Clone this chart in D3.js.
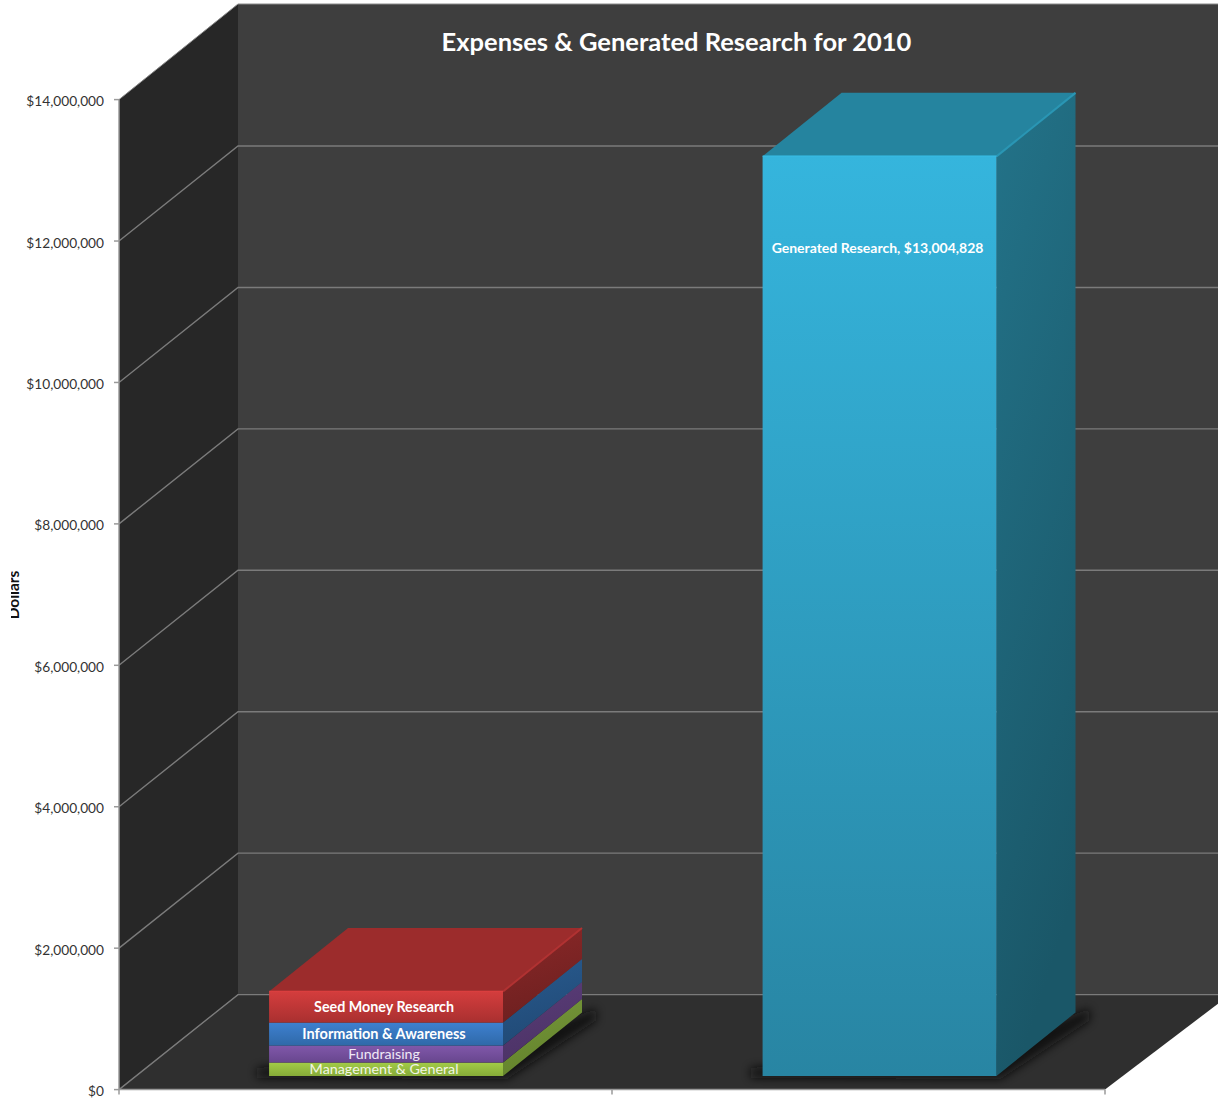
<!DOCTYPE html>
<html>
<head>
<meta charset="utf-8">
<title>Expenses & Generated Research for 2010</title>
<script src="https://cdn.jsdelivr.net/npm/d3@7"></script>
<style>
  html, body { margin: 0; padding: 0; background: #fff; }
  svg { display: block; }
  text { font-family: Lato, "Open Sans", sans-serif; }
</style>
</head>
<body>
<svg id="chart" width="1218" height="1101"></svg>
<script>
// Values in dollars
const groups = ["Expenses", "Generated Research"];
const expenseNames = ["Management & General", "Fundraising", "Information & Awareness", "Seed Money Research"];
const expenseValues = [190000, 240000, 325000, 440000];
const researchName = "Generated Research";
const researchValue = 13004828;
const tickValues = [0, 2000000, 4000000, 6000000, 8000000, 10000000, 12000000, 14000000];
const chartTitle = "Expenses & Generated Research for 2010";
const axisTitle = "Dollars";

// Face colours per series: front gradient top/bottom, side top/bottom, roof
const expenseFaces = [
  { front: ["#a2cb47", "#86ab38"], side: ["#75963a", "#64842c"], roof: "#7f9f35", label: "#f2f6e4", weight: 400, size: 14.3 },
  { front: ["#8058aa", "#68468e"], side: ["#5a3c78", "#4c3366"], roof: "#5a3c78", label: "#efe8f6", weight: 400, size: 14.2 },
  { front: ["#3e80d0", "#2f69a8"], side: ["#285a8e", "#214a76"], roof: "#285a8e", label: "#ffffff", weight: 700, size: 14.5 },
  { front: ["#d43d3d", "#a93030"], side: ["#8a2828", "#6e2020"], roof: "#9c2c2c", label: "#ffffff", weight: 700, size: 14.3 }
];
const researchFace = { front: ["#35b5dd", "#2885a3"], side: ["#237389", "#1a5768"], roof: "#25849f" };

const svg = d3.select("#chart");
const defs = svg.append("defs");

const y = d3.scaleLinear().domain([0, 14000000]).range([1089.6, 99.6]);
const x = d3.scaleBand().domain(groups).range([139.3, 1126.3]).paddingInner(0.526).paddingOuter(0.263);
const money = d3.format("$,");

// Box geometry
const left = 119, wallX = 238, wallShift = 95;
const floorRight = 1105, wallTop = 4, pageRight = 1230;
const barLift = 13.6, depthX = 79, depthY = 63.5;

const poly = pts => pts.map(p => p.join(",")).join(" ");

let gradId = 0;
function gradient(stops, x2, y2) {
  const id = "g" + (gradId++);
  const g = defs.append("linearGradient").attr("id", id)
    .attr("x1", 0).attr("y1", 0).attr("x2", x2).attr("y2", y2);
  g.append("stop").attr("offset", 0).attr("stop-color", stops[0]);
  g.append("stop").attr("offset", 1).attr("stop-color", stops[1]);
  return `url(#${id})`;
}

defs.append("filter").attr("id", "soft")
  .attr("x", "-20%").attr("y", "-60%").attr("width", "140%").attr("height", "220%")
  .append("feGaussianBlur").attr("stdDeviation", 5);
defs.append("clipPath").attr("id", "titleClip")
  .append("rect").attr("x", 11).attr("y", 540).attr("width", 20).attr("height", 100);

// Walls and floor
const walls = svg.append("g");
walls.append("polygon").attr("fill", "#3e3e3e")
  .attr("points", poly([[wallX, wallTop], [pageRight, wallTop], [pageRight, y(0) - wallShift], [wallX, y(0) - wallShift]]));
walls.append("polygon").attr("fill", "#272727")
  .attr("points", poly([[left, y(14000000)], [wallX, wallTop], [wallX, y(0) - wallShift], [left, y(0)]]));
walls.append("polygon").attr("fill", "#2f2f2f")
  .attr("points", poly([[left, y(0)], [wallX, y(0) - wallShift], [pageRight, y(0) - wallShift], [floorRight, y(0)]]));

// Gridlines run along the back wall and down the side wall
const grid = svg.append("g").attr("fill", "none").attr("stroke", "#7b7b7b").attr("stroke-width", 1.4);
grid.selectAll("polyline").data(tickValues.slice(0, -1)).join("polyline")
  .attr("points", d => poly([[left, y(d)], [wallX, y(d) - wallShift], [pageRight, y(d) - wallShift]]));
grid.append("polyline").attr("stroke", "#8a8a8a").attr("stroke-width", 1)
  .attr("points", poly([[left, y(14000000)], [wallX, wallTop], [pageRight, wallTop]]));

// Axes
const axisG = svg.append("g").attr("stroke", "#9a9a9a").attr("stroke-width", 1.5);
axisG.append("line").attr("x1", left).attr("x2", left).attr("y1", y(14000000)).attr("y2", y(0));
axisG.append("line").attr("x1", left).attr("x2", floorRight).attr("y1", y(0)).attr("y2", y(0));
axisG.selectAll(".ytick").data(tickValues).join("line").attr("class", "ytick")
  .attr("x1", left - 5).attr("x2", left).attr("y1", d => y(d)).attr("y2", d => y(d));
axisG.selectAll(".xtick").data([left, (left + floorRight) / 2, floorRight]).join("line").attr("class", "xtick")
  .attr("x1", d => d).attr("x2", d => d).attr("y1", y(0)).attr("y2", y(0) + 5);

svg.append("g").selectAll("text").data(tickValues).join("text")
  .attr("x", 104).attr("y", d => y(d) + 1.8).attr("dy", "0.35em").attr("text-anchor", "end")
  .attr("font-size", 13.7).attr("fill", "#333333")
  .text(d => money(d));

// Rotated axis title, trimmed at its left edge
svg.append("g").attr("clip-path", "url(#titleClip)")
  .append("text")
  .attr("transform", "translate(19,595) rotate(-90)")
  .attr("text-anchor", "middle").attr("font-size", 15.5).attr("font-weight", 700).attr("fill", "#111")
  .text(axisTitle);

// One 3D box: front face, side face, roof
function box(g, x0, w, yTop, yBottom, face, roofed) {
  const x1 = x0 + w;
  g.append("polygon").attr("fill", gradient(face.side, 0.25, 1))
    .attr("points", poly([[x1, yTop], [x1 + depthX, yTop - depthY], [x1 + depthX, yBottom - depthY], [x1, yBottom]]));
  if (roofed) {
    g.append("polygon").attr("fill", face.roof)
      .attr("points", poly([[x0, yTop], [x0 + depthX, yTop - depthY], [x1 + depthX, yTop - depthY], [x1, yTop]]));
    g.append("line").attr("x1", x1).attr("y1", yTop).attr("x2", x1 + depthX).attr("y2", yTop - depthY)
      .attr("stroke", d3.color(face.roof).brighter(0.35)).attr("stroke-width", 2);
    g.append("line").attr("x1", x0).attr("y1", yTop).attr("x2", x1).attr("y2", yTop)
      .attr("stroke", d3.color(face.front[0]).brighter(0.15)).attr("stroke-width", 1.5);
  }
  g.append("rect").attr("x", x0).attr("y", yTop).attr("width", w).attr("height", yBottom - yTop)
    .attr("fill", gradient(face.front, 0, 1));
}

// Soft shadow cast on the floor around each bar's foot
function shadow(x0, w) {
  const base = y(0) - barLift;
  svg.append("polygon").attr("fill", "#0c0c0c").attr("opacity", 0.85).attr("filter", "url(#soft)")
    .attr("points", poly([
      [x0 - 12, base - 8], [x0 - 12, base + 2], [x0 + w + 4, base + 3],
      [x0 + w + depthX + 14, base - depthY + 8], [x0 + w + depthX + 14, base - depthY - 4],
      [x0 + w, base - 30]
    ]));
}

const w = x.bandwidth();
const expenseX = x(groups[0]);
const researchX = x(groups[1]);

shadow(expenseX, w);
shadow(researchX, w);

// Stacked expense bar, drawn from the bottom up
const stack = svg.append("g");
const labels = svg.append("g").attr("text-anchor", "middle");
const labelYOffset = [-7, -9, -12, -15.5];
let running = 0;
expenseValues.forEach((v, i) => {
  const yBottom = y(running) - barLift;
  const yTop = y(running + v) - barLift;
  box(stack, expenseX, w, yTop, yBottom, expenseFaces[i], i === expenseValues.length - 1);
  running += v;
});
running = 0;
expenseValues.forEach((v, i) => {
  const yBottom = y(running) - barLift;
  const f = expenseFaces[i];
  labels.append("text")
    .attr("x", expenseX + w / 2 - 2).attr("y", yBottom + labelYOffset[i]).attr("dy", "0.35em")
    .attr("font-size", f.size).attr("font-weight", f.weight).attr("fill", f.label)
    .text(expenseNames[i]);
  running += v;
});

// Generated research bar
box(svg.append("g"), researchX, w, y(researchValue) - barLift, y(0) - barLift, researchFace, true);
svg.append("text")
  .attr("x", researchX + w / 2 - 2).attr("y", 248).attr("dy", "0.35em").attr("text-anchor", "middle")
  .attr("font-size", 14).attr("font-weight", 700).attr("fill", "#ffffff")
  .text(`${researchName}, ${money(researchValue)}`);

// Title
svg.append("text")
  .attr("x", 676.5).attr("y", 42).attr("dy", "0.35em").attr("text-anchor", "middle")
  .attr("font-size", 25.5).attr("font-weight", 700).attr("fill", "#ffffff")
  .text(chartTitle);
</script>
</body>
</html>
